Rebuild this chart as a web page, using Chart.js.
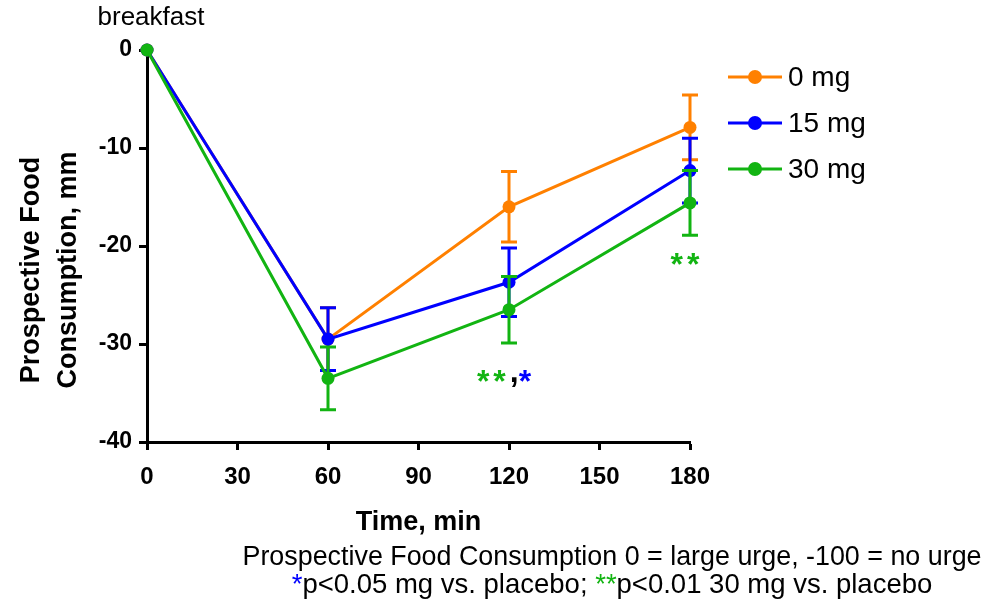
<!DOCTYPE html>
<html>
<head>
<meta charset="utf-8">
<script src="https://cdn.jsdelivr.net/npm/chart.js@4.4.1/dist/chart.umd.min.js"></script>
<style>
  html, body { margin: 0; padding: 0; background: #fff; }
  #wrap { width: 994px; height: 603px; }
</style>
</head>
<body>
<div id="wrap"><canvas id="graficoFome" width="994" height="603"></canvas></div>
<script>
// valores (média e erro padrão)
const tempos = [0, 60, 120, 180];
const doses = ['0 mg', '15 mg', '30 mg'];
const media0 = [0, -29.5, -16.0, -7.9];
const media15 = [0, -29.5, -23.7, -12.3];
const media30 = [0, -33.5, -26.5, -15.6];
const erro0 = [0, 3.2, 3.6, 3.3];
const erro15 = [0, 3.2, 3.5, 3.3];
const erro30 = [0, 3.2, 3.4, 3.3];
const ticksX = [0, 30, 60, 90, 120, 150, 180];
const ticksY = [0, -10, -20, -30, -40];

const cores = ['#ff8000', '#0000ff', '#12b412'];
const FONTE = '"Liberation Sans", Arial, sans-serif';

// marcas de significância: tempo, nível (eixo y), partes do texto
const significancia = [
    { tempo: 120, nivel: -33.2, partes: [['**', 2], [',', -1], ['*', 1]] },
    { tempo: 180, nivel: -21.2, partes: [['**', 2]] }
];

function serie(medias) {
    return medias.map((v, i) => ({ x: tempos[i], y: v }));
}

const erros = [erro0, erro15, erro30];

// barras de erro desenhadas antes de cada série (linha e pontos ficam por cima)
const barrasErro = {
    id: 'barrasErro',
    beforeDatasetDraw(chart, args) {
        const ds = chart.data.datasets[args.index];
        const e = erros[args.index];
        const ctx = chart.ctx;
        const xs = chart.scales.x, ys = chart.scales.y;
        ctx.save();
        ctx.strokeStyle = ds.borderColor;
        ctx.lineWidth = 3;
        ds.data.forEach((p, i) => {
            if (!e[i]) return;
            const x = xs.getPixelForValue(p.x);
            const top = ys.getPixelForValue(p.y + e[i]);
            const bot = ys.getPixelForValue(p.y - e[i]);
            ctx.beginPath();
            ctx.moveTo(x, top); ctx.lineTo(x, bot);
            ctx.moveTo(x - 8, top); ctx.lineTo(x + 8, top);
            ctx.moveTo(x - 8, bot); ctx.lineTo(x + 8, bot);
            ctx.stroke();
        });
        ctx.restore();
    }
};

// textos extras: título do eixo y, legenda, "breakfast", asteriscos, rodapé
const extras = {
    id: 'extras',
    afterDraw(chart) {
        const ctx = chart.ctx;
        const xs = chart.scales.x, ys = chart.scales.y;
        const area = chart.chartArea;
        ctx.save();

        // título do eixo y (duas linhas)
        ctx.save();
        ctx.translate(0, 270);
        ctx.rotate(-Math.PI / 2);
        ctx.fillStyle = '#000';
        ctx.font = 'bold 27px ' + FONTE;
        ctx.textAlign = 'center';
        ctx.textBaseline = 'middle';
        ctx.fillText('Prospective Food', 0, 32);
        ctx.fillText('Consumption, mm', 0, 69);
        ctx.restore();

        // breakfast
        ctx.fillStyle = '#000';
        ctx.font = '26px ' + FONTE;
        ctx.textAlign = 'center';
        ctx.textBaseline = 'middle';
        ctx.fillText('breakfast', xs.getPixelForValue(0) + 4, 18);

        // legenda
        const lx = area.right + 38;
        chart.data.datasets.forEach((ds, i) => {
            const y = 77 + i * 46;
            ctx.strokeStyle = ds.borderColor;
            ctx.lineWidth = 3;
            ctx.beginPath();
            ctx.moveTo(lx, y); ctx.lineTo(lx + 54, y);
            ctx.stroke();
            ctx.fillStyle = ds.borderColor;
            ctx.beginPath();
            ctx.arc(lx + 27, y, 7, 0, Math.PI * 2);
            ctx.fill();
            ctx.fillStyle = '#000';
            ctx.font = '28px ' + FONTE;
            ctx.textAlign = 'left';
            ctx.textBaseline = 'middle';
            ctx.fillText(ds.label, lx + 60, y + 1);
        });

        // asteriscos
        ctx.font = 'bold 32px ' + FONTE;
        ctx.textBaseline = 'alphabetic';
        ctx.textAlign = 'left';
        significancia.forEach(s => {
            const chars = [];
            s.partes.forEach(([txt, c]) => {
                for (const ch of txt) chars.push([ch, c < 0 ? '#000' : cores[c]]);
            });
            const larg = chars.map(([ch]) => ctx.measureText(ch).width + (ch === '*' ? 4 : 0));
            const total = larg.reduce((a, b) => a + b, 0);
            let x = xs.getPixelForValue(s.tempo) - total / 2 - 3;
            const yb = ys.getPixelForValue(s.nivel) + 17;
            chars.forEach(([ch, cor], i) => {
                ctx.fillStyle = cor;
                ctx.fillText(ch, x, ch === ',' ? yb - 10 : yb);
                x += larg[i];
            });
        });

        // rodapé
        ctx.fillStyle = '#000';
        ctx.font = '27.5px ' + FONTE;
        ctx.textAlign = 'center';
        ctx.textBaseline = 'middle';
        ctx.fillText('Prospective Food Consumption 0 = large urge, -100 = no urge', 612, 557, 739);

        const partes = [['*', cores[1]], ['p<0.05 mg vs. placebo; ', '#000'], ['**', cores[2]], ['p<0.01 30 mg vs. placebo', '#000']];
        const w = partes.map(([t]) => ctx.measureText(t).width);
        const tot = w.reduce((a, b) => a + b, 0);
        const esc = Math.min(1, 645 / tot);
        ctx.save();
        ctx.translate(612 - tot * esc / 2, 585);
        ctx.scale(esc, 1);
        ctx.textAlign = 'left';
        let px = 0;
        partes.forEach(([t, cor], i) => {
            ctx.fillStyle = cor;
            ctx.fillText(t, px, 0);
            px += w[i];
        });
        ctx.restore();

        ctx.restore();
    }
};

const dados = {
    datasets: doses.map((d, i) => ({
        label: d,
        data: serie([media0, media15, media30][i]),
        borderColor: cores[i],
        backgroundColor: cores[i],
        borderWidth: 3,
        pointRadius: 6.5,
        pointHoverRadius: 6.5,
        pointBorderWidth: 0,
        tension: 0,
        clip: false,
        order: doses.length - 1 - i   // 30 mg desenhado por cima
    }))
};

const config = {
    type: 'line',
    data: dados,
    options: {
        responsive: false,
        animation: false,
        layout: { padding: { left: 0, right: 304, top: 50, bottom: 60 } },
        plugins: {
            legend: { display: false },
            tooltip: { enabled: false }
        },
        scales: {
            x: {
                type: 'linear',
                min: 0,
                max: 180,
                afterBuildTicks: s => { s.ticks = ticksX.map(v => ({ value: v })); },
                afterFit: s => { s.height = 101; },
                border: { display: true, width: 3, color: '#000' },
                grid: { drawOnChartArea: false, drawTicks: true, tickLength: 8, tickWidth: 3, tickColor: '#000' },
                ticks: {
                    color: '#000',
                    padding: 13,
                    maxRotation: 0,
                    font: { family: FONTE, weight: 'bold', size: 24 }
                },
                title: {
                    display: true,
                    text: 'Time, min',
                    color: '#000',
                    padding: { top: 0, bottom: 4 },
                    font: { family: FONTE, weight: 'bold', size: 27 }
                }
            },
            y: {
                min: -40,
                max: 0,
                afterBuildTicks: s => { s.ticks = ticksY.map(v => ({ value: v })); },
                afterFit: s => { s.width = 147; },
                border: { display: true, width: 3, color: '#000' },
                grid: { drawOnChartArea: false, drawTicks: true, tickLength: 8, tickWidth: 3, tickColor: '#000' },
                ticks: {
                    color: '#000',
                    padding: 7,
                    font: { family: FONTE, weight: 'bold', size: 23 }
                }
            }
        }
    },
    plugins: [barrasErro, extras]
};

new Chart(document.getElementById('graficoFome'), config);
</script>
</body>
</html>
